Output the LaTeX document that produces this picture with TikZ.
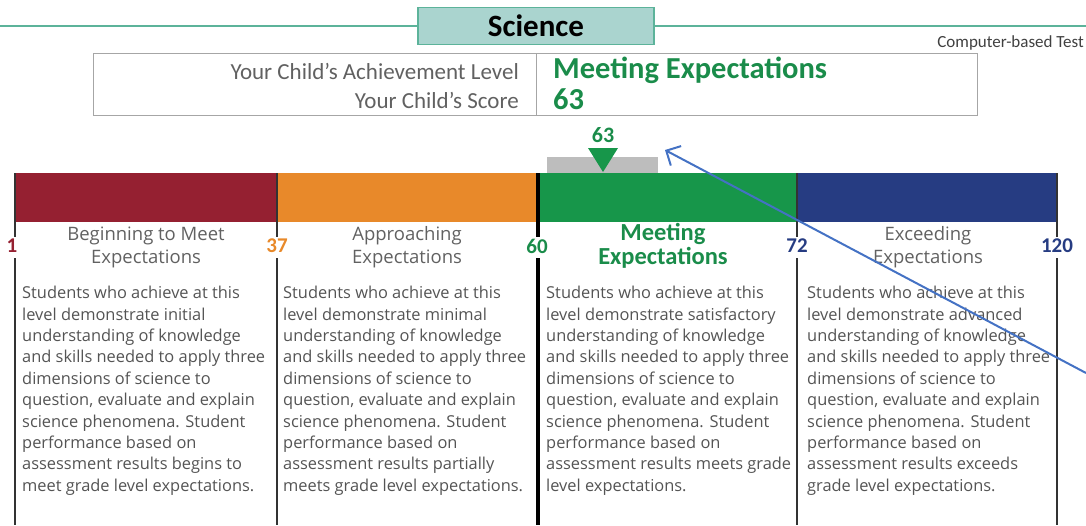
\documentclass[tikz,border=0pt]{standalone}
\usepackage{fontspec}
\setmainfont{Carlito}
\newfontfamily\bodyfont{Open Sans}
\usetikzlibrary{arrows.meta, positioning}
\definecolor{begRed}{RGB}{149,32,49}
\definecolor{appOrange}{RGB}{232,137,42}
\definecolor{meetGreen}{RGB}{23,150,74}
\definecolor{excBlue}{RGB}{38,60,130}
\definecolor{textGreen}{RGB}{26,140,74}
\definecolor{headTeal}{RGB}{92,179,154}
\definecolor{headFill}{RGB}{170,212,207}
\definecolor{descGray}{gray}{0.33}
\definecolor{titleGray}{gray}{0.38}
\definecolor{boxGray}{gray}{0.65}
\definecolor{markGray}{gray}{0.74}
\definecolor{noteBlue}{RGB}{68,114,196}

\tikzset{
  desc/.style={anchor=north west, align=left, inner sep=0pt, text=descGray,
    font=\bodyfont\fontsize{16.4}{21.4}\selectfont},
  lvltitle/.style={align=center, inner sep=0pt, text=titleGray,
    font=\bodyfont\fontsize{18.5}{23}\selectfont},
  cutnum/.style={inner sep=0pt, font=\bfseries\fontsize{21}{21}\selectfont},
  divider/.style={draw=black!80, line width=1.5pt},
}

\begin{document}
\begin{tikzpicture}[x=1pt, y=-1pt, >=Stealth]
    \useasboundingbox (0,0) rectangle (1086,525);

    % header line and title box
    \draw[headTeal, line width=2pt] (0,26) -- (1086,26);
    \node[draw=headTeal, line width=1.5pt, fill=headFill, minimum width=236pt,
          minimum height=37pt, font=\bfseries\fontsize{31}{31}\selectfont] (title) at (536,26) {Science};
    \node[anchor=east, inner sep=0pt, text=black!75, font=\fontsize{17}{17}\selectfont] (cbt) at (1084,43) {Computer-based Test};

    % score box
    \draw[boxGray, line width=1pt] (93,53) rectangle (977,115);
    \draw[boxGray, line width=1pt] (536,53) -- (536,115);
    \node[anchor=east, inner sep=0pt, text=titleGray, font=\fontsize{23}{23}\selectfont] (lvllab) at (519,71) {Your Child’s Achievement Level};
    \node[anchor=east, inner sep=0pt, text=titleGray, font=\fontsize{23}{23}\selectfont] (scorelab) at (519,100) {Your Child’s Score};
    \node[anchor=west, inner sep=0pt, text=textGreen, font=\bfseries\fontsize{30.5}{30.5}\selectfont] (lvlval) at (553,70) {Meeting Expectations};
    \node[anchor=west, inner sep=0pt, text=textGreen, font=\bfseries\fontsize{30.5}{30.5}\selectfont] (scoreval) at (553,99) {63};

    % score marker
    \fill[markGray] (547,157) rectangle (658,174);
    \fill[meetGreen] (588,148) -- (618,148) -- (603,172) -- cycle;
    \node[inner sep=0pt, text=textGreen, font=\bfseries\fontsize{22}{22}\selectfont] (mark) at (603,135) {63};

    % level bar
    \fill[begRed] (15,173) rectangle (277,222);
    \fill[appOrange] (277,173) rectangle (538,222);
    \fill[meetGreen] (538,173) rectangle (797,222);
    \fill[excBlue] (797,173) rectangle (1057,222);

    % cut scores and dividers
    \node[cutnum, text=begRed] (c1) at (12,246) {1};
    \node[cutnum, text=appOrange] (c37) at (277,246) {37};
    \node[cutnum, text=textGreen] (c60) at (537,246) {60};
    \node[cutnum, text=excBlue] (c72) at (797,246) {72};
    \node[cutnum, text=excBlue] (c120) at (1057,246) {120};
    \draw[divider] (15,173) -- (15,237) (15,258) -- (15,525);
    \draw[divider] (277,173) -- (277,237) (277,258) -- (277,525);
    \draw[black, line width=4pt] (538,173) -- (538,237) (538,258) -- (538,525);
    \draw[divider] (797,173) -- (797,237) (797,258) -- (797,525);
    \draw[divider] (1057,173) -- (1057,237) (1057,258) -- (1057,525);

    % level names
    \node[lvltitle] (lvl1) at (146,247) {Beginning to Meet\\Expectations};
    \node[lvltitle] (lvl2) at (407,247) {Approaching\\Expectations};
    \node[lvltitle, text=textGreen, font=\bfseries\fontsize{24.5}{24}\selectfont] (lvl3) at (663,246) {Meeting\\Expectations};
    \node[lvltitle] (lvl4) at (928,247) {Exceeding\\Expectations};

    % descriptions
    \node[desc] (desc1) at (22,286) {Students who achieve at this\\level demonstrate initial\\understanding of knowledge\\and skills needed to apply three\\dimensions of science to\\question, evaluate and explain\\science phenomena. Student\\performance based on\\assessment results begins to\\meet grade level expectations.};
    \node[desc] (desc2) at (283,286) {Students who achieve at this\\level demonstrate minimal\\understanding of knowledge\\and skills needed to apply three\\dimensions of science to\\question, evaluate and explain\\science phenomena. Student\\performance based on\\assessment results partially\\meets grade level expectations.};
    \node[desc] (desc3) at (546,286) {Students who achieve at this\\level demonstrate satisfactory\\understanding of knowledge\\and skills needed to apply three\\dimensions of science to\\question, evaluate and explain\\science phenomena. Student\\performance based on\\assessment results meets grade\\level expectations.};
    \node[desc] (desc4) at (807,286) {Students who achieve at this\\level demonstrate advanced\\understanding of knowledge\\and skills needed to apply three\\dimensions of science to\\question, evaluate and explain\\science phenomena. Student\\performance based on\\assessment results exceeds\\grade level expectations.};

    % pointer arrow
    \coordinate (tail) at (1086,373);
    \coordinate (tip) at (665,150);
    \draw[noteBlue, line width=2pt, -{Straight Barb[length=11pt, width=22pt]}] (tail) -- (tip);
\end{tikzpicture}
\end{document}
